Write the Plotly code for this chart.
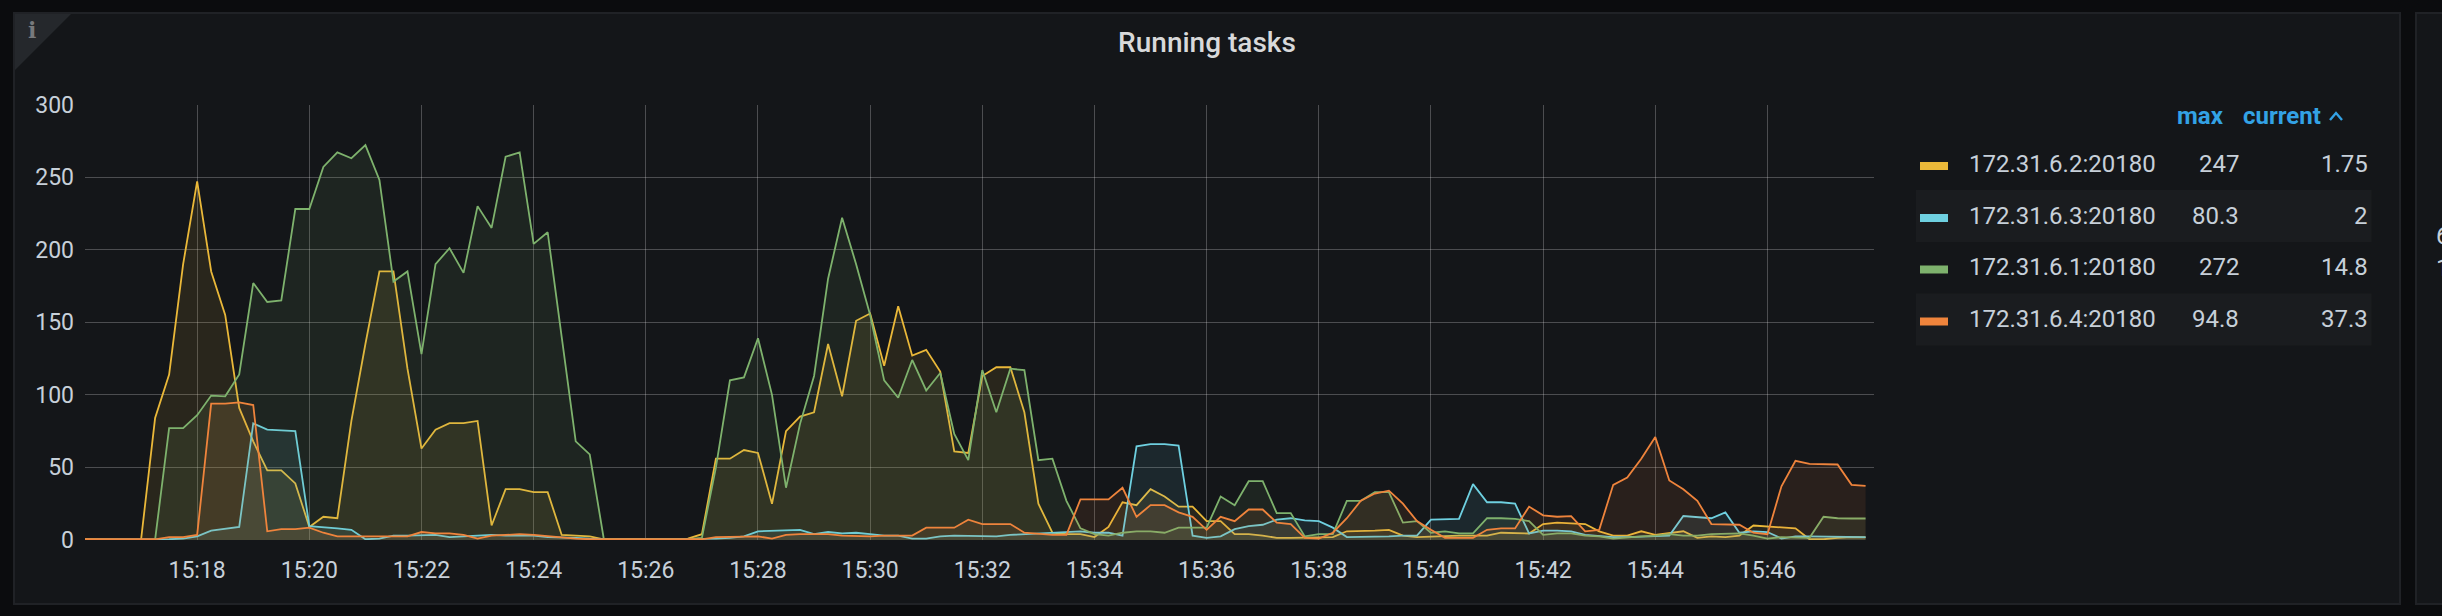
import plotly.graph_objects as go
from datetime import datetime, timedelta

W, H = 2442, 616
START = datetime(2021, 1, 1, 15, 16, 0)
STEP_SECONDS = 15

names = ["172.31.6.2:20180", "172.31.6.3:20180", "172.31.6.1:20180", "172.31.6.4:20180"]
max_labels = ["247", "80.3", "272", "94.8"]
current_labels = ["1.75", "2", "14.8", "37.3"]
colors = ["#EAB839", "#6ED0E0", "#7EB26D", "#EF843C"]
fills = ["rgba(234,184,57,0.1)", "rgba(110,208,224,0.1)", "rgba(126,178,109,0.1)", "rgba(239,132,60,0.1)"]

yellow = [0.5,0.5,0.3,0.3,0.3,84,114,190,247,185,155,91,68,48,48,39,9,16,15,82,135,185,185,118,63,76,80.5,80.5,82,10,35,35,33,33,3.5,3,2.5,0.5,0.7,0.7,0.5,0.5,0.5,1,4,56,56,62,60,25,75,85,88,135,99,151,156,120,161,127,131,116,61,60,113,119,119,88,25,5,4,4,2,9,26,24,35,30,23,23,13,13,4,4,3,1.5,1.5,1.5,1.5,2,6,6,6.5,7,3,2,2.5,3,3,3,3,5,5,4.5,11,12,11.5,11,6,3,3,6,3.5,5,6,1.5,2.5,2,3,10,9.5,9,8,0.5,0.5,1.5,2,1.75]
cyan = [0.2,0.2,0.2,0.2,0.2,0.2,0.5,1,2.5,6.5,7.5,9,80.3,76,75.5,75,9.5,9,8,7,0.5,1,3,3,3.5,3.5,2,2.5,3,3.5,3,3,3,2,2,1.5,1,0.5,0.5,0.5,0.5,0.5,0.5,0.5,0.5,1,1.5,2.5,6,6.5,6.5,7,4,5.5,4.5,5,4,3,3,1,1,2.5,3,3,3,2.5,3.5,4,5,5,6,6,5,5,3,64.5,66,66,65,3,1.5,2.5,7.5,9.5,10.5,14,15,13.5,13,8.5,2,2,2,2.5,3,3,14,14,14.5,38.5,26,26,25,4.5,6.5,6.5,6,3.5,2.5,2,2,2.5,2.5,3,16.5,15.5,15,19,5,6,5.5,1,2.5,2.5,2.5,2.5,2,2]
green = [0.2,0.2,0.2,0.2,0.2,0.2,77,77,86,99.5,99,114,177,164,165,228,228,257,267,263,272,248,178,185,128,190,201,184,230,215,264,267,204,212,140,68,59,1,0.5,0.5,0.5,0.5,0.5,0.5,1.5,50,110,112,139,100,36,80,113,180,222,190,155,110,98,124,103,115,73,55,117,88,118,117,55,56,27,8,4,3,5,6,6,5,8.5,8.5,8.5,30,24,40.5,40.5,18.5,18.5,2.5,4,4,27,27,33,33,12,13,5,6,4.5,4.5,15,15,14.5,13,3.5,4.5,4.5,3,2.5,1,2,2.5,3,4,3,3,4,4.5,4.5,3,1,2,2,1.5,16,15,14.8,14.8]
orange = [0.5,0.5,0.5,0.5,0.5,0.5,2,2,3.5,94,94,94.8,93,6,7.5,7.5,8.5,5,2.5,2.5,2,2.5,2.5,2.5,5.5,4.5,4.5,3.5,1,3,3.5,4,3.5,2.5,2,1,0.5,0.5,0.5,0.5,0.5,0.5,0.5,0.5,0.5,2,2,2.5,2.5,1,3.5,4,4,4,3,2.5,2.5,3,3,3,8.5,8.5,8.5,14,11,11,11,5,4,3.5,3.5,28,28,28,36,16,24,24,19,16,7,16,13,21,21,12,11,1.5,1,5,15,27,32,34,25,13,7,1.5,1.5,1.5,7,8,8,23,17,16,16.5,6,7,38,43,56,71,41,35,27,11,10.5,10.5,5,4,37,54.5,52.5,52.5,52,38,37.3]
series_values = [yellow, cyan, green, orange]

y_ticks = [0, 50, 100, 150, 200, 250, 300]
x_tick_labels = ["15:18","15:20","15:22","15:24","15:26","15:28","15:30","15:32","15:34","15:36","15:38","15:40","15:42","15:44","15:46"]
x_ticks = [START + timedelta(minutes=2 + 2 * k) for k in range(len(x_tick_labels))]

times = [START + timedelta(seconds=STEP_SECONDS * i) for i in range(len(yellow))]

def px(v): return v / W
def py(v): return 1 - v / H

fig = go.Figure()
for name, vals, color, fill in zip(names, series_values, colors, fills):
    fig.add_trace(go.Scatter(x=times, y=vals, name=name, mode="lines", cliponaxis=False,
                             line=dict(color=color, width=1.8), fill="tozeroy", fillcolor=fill))

shapes = [
    dict(type="rect", xref="paper", yref="paper", x0=px(14), x1=px(2400), y0=py(13), y1=py(604),
         fillcolor="#141619", line=dict(color="#202226", width=2), layer="below"),
    dict(type="rect", xref="paper", yref="paper", x0=px(2416), x1=px(2460), y0=py(13), y1=py(604),
         fillcolor="#141619", line=dict(color="#202226", width=2), layer="below"),
    dict(type="path", xref="paper", yref="paper",
         path=f"M {px(15)} {py(14)} L {px(71)} {py(14)} L {px(15)} {py(70)} Z",
         fillcolor="#25282c", line=dict(width=0), layer="below"),
    dict(type="path", xref="paper", yref="paper",
         path=f"M {px(2330)} {py(120)} L {px(2336)} {py(113)} L {px(2342)} {py(120)}",
         line=dict(color="#33a2e5", width=2.4)),
]
annotations = [
    dict(x=px(32), y=py(30), text="<b>i</b>", font=dict(family="DejaVu Serif", size=22, color="#77797c")),
    dict(x=px(2200.5), y=py(116), text="<b>max</b>", font=dict(family="Roboto", size=24, color="#33a2e5")),
    dict(x=px(2282), y=py(116), text="<b>current</b>", font=dict(family="Roboto", size=24, color="#33a2e5")),
    dict(x=px(2434), y=py(236), xanchor="left", text="6", font=dict(family="Roboto", size=24, color="#c7d0d9")),
    dict(x=px(2434), y=py(268), xanchor="left", text="1", font=dict(family="Roboto", size=24, color="#c7d0d9")),
]
row_text_y = [163.5, 215.5, 267, 319]
for k, name in enumerate(names):
    ty = row_text_y[k]
    if k % 2 == 1:
        shapes.append(dict(type="rect", xref="paper", yref="paper", x0=px(1916), x1=px(2371.5),
                           y0=py(ty - 25.5), y1=py(ty + 26.5), fillcolor="#1a1c1f", line=dict(width=0), layer="below"))
    shapes.append(dict(type="rect", xref="paper", yref="paper", x0=px(1920), x1=px(1948),
                       y0=py(ty - 1.5), y1=py(ty + 6.5), fillcolor=colors[k], line=dict(width=0)))
    annotations.append(dict(x=px(1966.5), y=py(ty), xanchor="left", text=name,
                            font=dict(family="Roboto", size=24, color="#c7d0d9")))
    annotations.append(dict(x=px(2240.5), y=py(ty), xanchor="right", text=max_labels[k],
                            font=dict(family="Roboto", size=24, color="#c7d0d9")))
    annotations.append(dict(x=px(2369.5), y=py(ty), xanchor="right", text=current_labels[k],
                            font=dict(family="Roboto", size=24, color="#c7d0d9")))
for a in annotations:
    a.update(xref="paper", yref="paper", showarrow=False, yanchor="middle")
    a.setdefault("xanchor", "center")

GRID = "rgba(255,255,255,0.24)"
fig.update_layout(
    width=W, height=H, autosize=False, margin=dict(l=0, r=0, t=0, b=0),
    paper_bgcolor="#0b0c0e", plot_bgcolor="rgba(0,0,0,0)", showlegend=False,
    font=dict(family="Roboto", color="#c7d0d9", size=23),
    title=dict(text="Running tasks", x=1207 / W, y=1 - 42 / H, xanchor="center", yanchor="middle", automargin=False,
               font=dict(family="Roboto", size=28, weight=500, color="#d8d9da")),
    shapes=shapes, annotations=annotations,
    xaxis=dict(domain=[px(85), px(1874)], range=[START, START + timedelta(seconds=1914)], type="date", automargin=False,
               tickmode="array", tickvals=x_ticks, ticktext=x_tick_labels, showgrid=True, gridcolor=GRID, gridwidth=1.4,
               ticks="", ticklabelstandoff=14, zeroline=False, showline=False, tickangle=0),
    yaxis=dict(domain=[py(540), py(104.5)], range=[0, 300], tickmode="array", tickvals=y_ticks, automargin=False,
               showgrid=True, gridcolor=GRID, gridwidth=1.4, ticks="", ticklabelstandoff=10, zeroline=False, showline=False),
)
fig.write_html("out.html", config=dict(displayModeBar=False),
               post_script="document.body.style.margin='0';document.body.style.background='#0b0c0e';")
